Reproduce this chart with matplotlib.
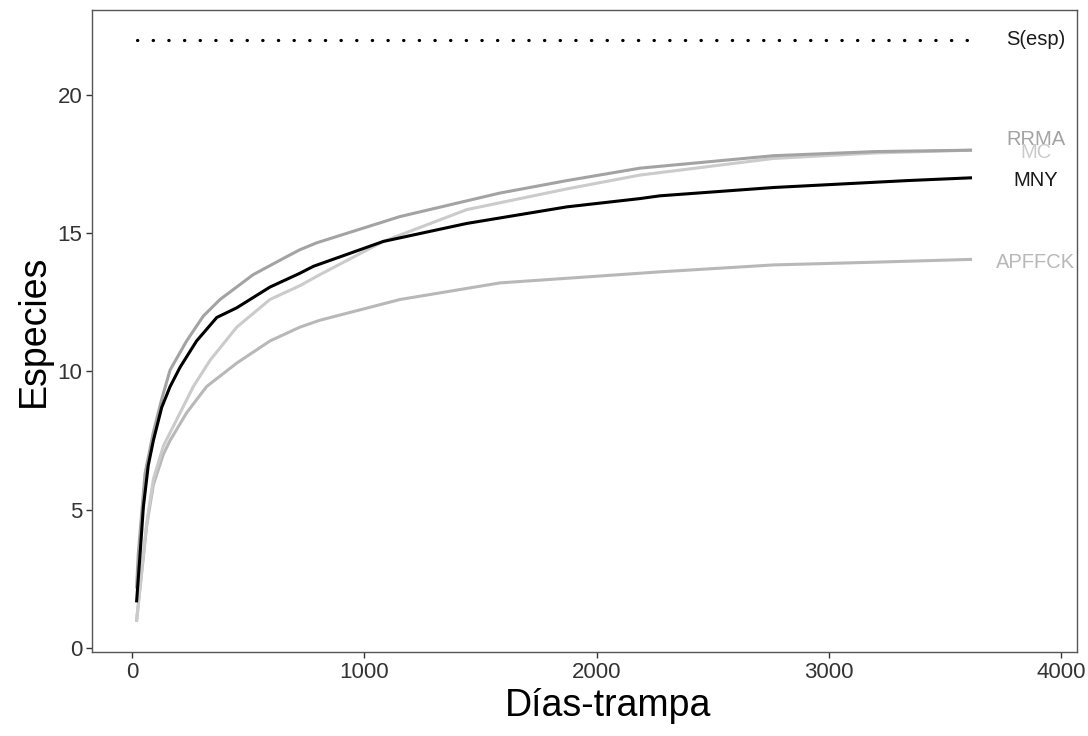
import numpy as np
import matplotlib
matplotlib.use("Agg")
import matplotlib.pyplot as plt

plt.rcParams['font.family'] = ['Liberation Sans', 'DejaVu Sans']

# ---- curve data (x = dias-trampa, y = especies)
x_mny = [20, 34, 49, 70, 92, 128, 164, 207, 278, 365, 451, 594, 723, 781, 1082,
         1441, 1872, 2187, 2273, 2761, 3336, 3610]
y_mny = [1.7, 3.3, 5.1, 6.6, 7.5, 8.7, 9.45, 10.15, 11.1, 11.95, 12.3, 13.05, 13.55, 13.8, 14.7,
         15.35, 15.95, 16.25, 16.35, 16.65, 16.9, 17.0]

x_rrma = [20, 27, 56, 92, 128, 164, 235, 307, 379, 522, 666, 723, 795, 1154,
          1584, 1872, 2187, 2761, 3200, 3610]
y_rrma = [2.2, 3.4, 6.3, 7.8, 9.0, 10.05, 11.1, 12.0, 12.6, 13.5, 14.15, 14.4, 14.65, 15.6,
          16.45, 16.9, 17.35, 17.8, 17.95, 18.0]

x_mc = [20, 63, 92, 135, 192, 264, 336, 451, 594, 723, 809, 1082, 1441,
        1872, 2187, 2761, 3200, 3610]
y_mc = [1.0, 4.5, 6.1, 7.3, 8.25, 9.45, 10.4, 11.6, 12.6, 13.1, 13.5, 14.7, 15.85,
        16.6, 17.1, 17.7, 17.9, 18.0]

x_apf = [20, 63, 92, 135, 164, 235, 321, 451, 594, 723, 809, 1154, 1584,
         2015, 2273, 2761, 3200, 3610]
y_apf = [1.0, 4.4, 5.9, 7.0, 7.5, 8.5, 9.45, 10.3, 11.1, 11.6, 11.85, 12.6, 13.2,
         13.45, 13.6, 13.85, 13.95, 14.05]

s_esp = 22
x_sesp = [20, 3610]

labels = ['S(esp)', 'RRMA', 'MC', 'MNY', 'APFFCK']
label_y = [22, 18.4, 17.9, 16.9, 13.95]
label_x = 3890

c_rrma = '#a3a3a3'
c_mc = '#cbcbcb'
c_mny = '#000000'
c_apf = '#b8b8b8'

fig = plt.figure(figsize=(10.88, 7.36), dpi=100)
ax = fig.add_axes([0.0846, 0.1141, 0.9054, 0.8723])

# ---- accumulation curves
ax.plot(x_apf, y_apf, color=c_apf, lw=2.2)
ax.plot(x_mc, y_mc, color=c_mc, lw=2.2)
ax.plot(x_rrma, y_rrma, color=c_rrma, lw=2.2)
ax.plot(x_mny, y_mny, color=c_mny, lw=2.2)
# ---- expected richness line
ax.plot(x_sesp, [s_esp, s_esp], color='black', lw=2.3,
        linestyle=(0, (0.1, 4.8)), dash_capstyle='round')

label_colors = ['#1a1a1a', c_rrma, c_mc, '#1a1a1a', c_apf]
for lab, ly, lc in zip(labels, label_y, label_colors):
    ax.text(label_x, ly, lab, color=lc, fontsize=14.5, ha='center', va='center')

ax.set_xlim(-172, 4069)
ax.set_ylim(-0.15, 23.07)
ax.set_xticks([0, 1000, 2000, 3000, 4000])
ax.set_yticks([0, 5, 10, 15, 20])

for sp in ax.spines.values():
    sp.set_color('#555555')
    sp.set_linewidth(1.0)
ax.tick_params(axis='both', direction='out', length=4, width=1, color='#333333',
               labelsize=16, labelcolor='#333333', pad=3)

ax.set_xlabel('Días-trampa', fontsize=27, labelpad=4)
ax.xaxis.label.set_x(0.524)
ax.set_ylabel('Especies', fontsize=27, labelpad=4)

fig.savefig('out.png', dpi=100)
